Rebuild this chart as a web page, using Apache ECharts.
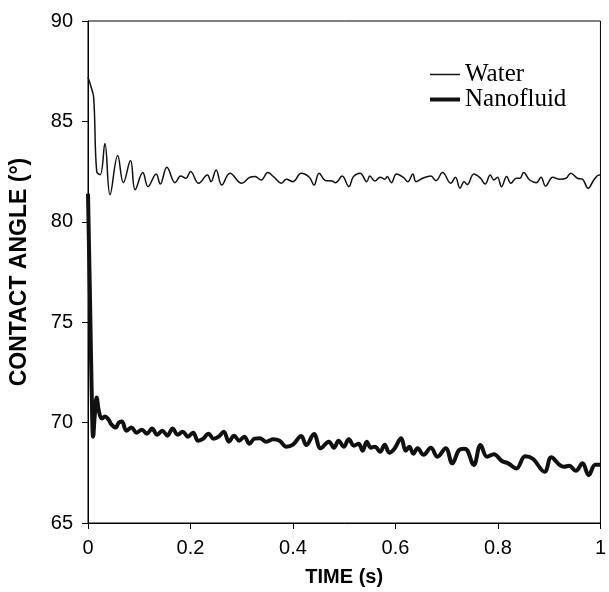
<!DOCTYPE html>
<html>
<head>
<meta charset="utf-8">
<script src="https://cdn.jsdelivr.net/npm/echarts@6/dist/echarts.min.js"></script>
<style>html,body{margin:0;padding:0;background:#fff}#c{width:609px;height:592px}</style>
</head>
<body>
<div id="c"></div>
<script>
var seriesNames = ['Water', 'Nanofluid'];
var xTicks = [0, 0.2, 0.4, 0.6, 0.8, 1];
var yTicks = [65, 70, 75, 80, 85, 90];

var waterT = [0,0.005,0.011,0.017,0.024,0.033,0.043,0.058,0.069,0.083,0.092,0.107,0.117,0.133,0.141,0.154,0.170,0.181,0.191,0.200,0.216,0.233,0.240,0.250,0.261,0.277,0.300,0.316,0.326,0.338,0.351,0.364,0.377,0.387,0.400,0.416,0.432,0.441,0.451,0.464,0.476,0.483,0.496,0.509,0.518,0.531,0.544,0.550,0.560,0.570,0.579,0.584,0.592,0.602,0.615,0.624,0.634,0.640,0.653,0.669,0.679,0.692,0.708,0.717,0.726,0.734,0.740,0.753,0.766,0.775,0.785,0.792,0.799,0.807,0.817,0.825,0.836,0.843,0.850,0.862,0.875,0.884,0.893,0.907,0.920,0.933,0.942,0.955,0.965,0.976,0.987,0.997,1.0];
var waterV = [87.2,86.8,86.2,82.5,82.35,83.9,81.35,83.3,81.95,83.05,81.6,82.45,81.75,82.38,81.88,82.72,81.95,82.28,82.17,82.5,81.92,82.33,82.0,82.58,81.83,82.42,81.92,82.22,82.25,82.08,82.45,82.2,81.92,82.12,82.0,82.42,82.22,81.83,82.42,82.05,82.03,81.95,82.28,81.75,82.25,82.42,82.0,82.28,82.03,82.22,82.12,82.25,81.95,82.38,82.22,82.0,82.38,82.0,82.17,82.28,82.05,82.45,81.92,82.22,81.67,82.0,81.85,82.38,82.17,81.88,82.33,82.08,82.22,81.75,82.25,81.92,82.17,82.17,82.45,82.08,81.95,82.22,81.78,82.22,82.12,82.17,82.42,82.17,82.12,81.67,82.08,82.33,82.33];

var nanoT = [0,0.004,0.008,0.010,0.013,0.017,0.021,0.027,0.033,0.040,0.046,0.054,0.060,0.066,0.075,0.085,0.095,0.105,0.115,0.125,0.135,0.145,0.155,0.165,0.175,0.185,0.195,0.205,0.215,0.225,0.235,0.245,0.255,0.265,0.275,0.285,0.295,0.305,0.315,0.325,0.335,0.348,0.361,0.374,0.387,0.400,0.416,0.426,0.441,0.454,0.470,0.480,0.489,0.499,0.509,0.519,0.528,0.536,0.544,0.552,0.560,0.570,0.579,0.588,0.598,0.611,0.620,0.627,0.635,0.643,0.655,0.669,0.682,0.698,0.711,0.724,0.734,0.740,0.753,0.766,0.779,0.792,0.807,0.820,0.836,0.853,0.868,0.891,0.904,0.920,0.929,0.939,0.952,0.965,0.977,0.990,1.0];
var nanoV = [81.4,76.0,70.5,69.3,70.3,71.25,70.6,70.2,70.3,70.15,69.9,69.75,70.0,70.05,69.6,69.75,69.5,69.65,69.45,69.7,69.4,69.6,69.35,69.7,69.4,69.55,69.3,69.5,69.1,69.2,69.45,69.2,69.3,69.55,69.05,69.35,69.1,69.3,68.95,69.2,69.22,69.05,69.17,69.1,68.8,68.9,69.33,68.88,69.43,68.72,69.05,68.75,69.1,68.8,69.17,68.85,68.95,68.6,69.05,68.75,68.8,68.55,68.9,68.5,68.7,69.22,68.6,68.8,68.45,68.72,68.4,68.75,68.3,68.72,67.97,68.63,68.7,68.63,67.89,68.88,68.3,68.43,68.1,67.97,67.72,68.33,68.2,67.55,68.27,67.9,67.8,67.85,67.6,67.97,67.39,67.9,67.9];

function pairs(t, v) { return t.map(function (x, i) { return [x, v[i]]; }); }

var chart = echarts.init(document.getElementById('c'), null, { renderer: 'canvas' });
chart.setOption({
  animation: false,
  backgroundColor: '#fff',
  grid: { left: 86, right: 4, top: 21, bottom: 69, show: true, borderColor: '#000', borderWidth: 1, backgroundColor: 'transparent' },
  legend: {
    orient: 'vertical', left: 423, top: 57, itemWidth: 30, itemHeight: 14, itemGap: 0,
    itemStyle: { color: 'transparent', borderWidth: 0, opacity: 0 },
    data: [
      { name: seriesNames[0], lineStyle: { width: 1.5, color: '#111' } },
      { name: seriesNames[1], lineStyle: { width: 4, color: '#111' } }
    ],
    textStyle: { fontFamily: 'Liberation Serif', fontSize: 25, color: '#000' }
  },
  xAxis: {
    type: 'value', min: xTicks[0], max: xTicks[xTicks.length - 1], interval: 0.2,
    name: 'TIME (s)', nameLocation: 'middle', nameGap: 44,
    nameTextStyle: { fontFamily: 'Liberation Sans', fontWeight: 'bold', fontSize: 20, color: '#000' },
    axisLine: { lineStyle: { color: '#000', width: 1 } },
    axisTick: { show: true, inside: false, length: 6, lineStyle: { color: '#000' } },
    axisLabel: { fontFamily: 'Liberation Sans', fontSize: 20, color: '#000', margin: 15, formatter: function (v) { return String(v); } },
    splitLine: { show: false }
  },
  yAxis: {
    type: 'value', min: yTicks[0], max: yTicks[yTicks.length - 1], interval: 5,
    name: 'CONTACT ANGLE (°)', nameLocation: 'middle', nameGap: 57, nameRotate: 90,
    nameTextStyle: { fontFamily: 'Liberation Sans', fontWeight: 'bold', fontSize: 23, color: '#000' },
    axisLine: { show: true, lineStyle: { color: '#000', width: 1 } },
    axisTick: { show: true, inside: false, length: 6, lineStyle: { color: '#000' } },
    axisLabel: { fontFamily: 'Liberation Sans', fontSize: 20, color: '#000', margin: 15 },
    splitLine: { show: false }
  },
  series: [
    { name: seriesNames[0], type: 'line', data: pairs(waterT, waterV), symbol: 'none', smooth: 0.4,
      lineStyle: { color: '#111', width: 1.5 }, itemStyle: { color: '#111' } },
    { name: seriesNames[1], type: 'line', data: pairs(nanoT, nanoV), symbol: 'none', smooth: 0.4,
      lineStyle: { color: '#111', width: 4 }, itemStyle: { color: '#111' } }
  ]
});
</script>
</body>
</html>
